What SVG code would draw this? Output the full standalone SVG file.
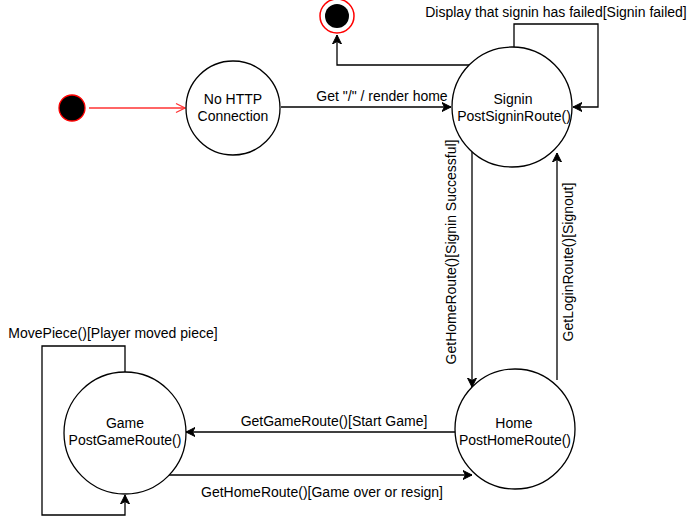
<svg xmlns="http://www.w3.org/2000/svg" width="699" height="527" viewBox="0 0 699 527">
<style>
.st{fill:#fff;stroke:#000;stroke-width:1.3}
.t{font-family:"Liberation Sans",Arial,sans-serif;font-size:14px;fill:#000}
.c{text-anchor:middle}
.e{fill:none;stroke:#000;stroke-width:1.3}
</style>
<defs>
<marker id="a" markerWidth="10" markerHeight="10" refX="9" refY="5" orient="auto" markerUnits="userSpaceOnUse">
<path d="M0,0.5 L9,5 L0,9.5 L2.5,5 z" fill="#000" stroke="#000" stroke-width="1"/>
</marker>
<marker id="o" markerWidth="12" markerHeight="12" refX="10" refY="6" orient="auto" markerUnits="userSpaceOnUse">
<path d="M1,1.5 L10,6 L1,10.5" fill="none" stroke="#ff3333" stroke-width="1.3"/>
</marker>
</defs>
<g id="connectors">
<line x1="89" y1="108" x2="185" y2="108" stroke="#ff3333" stroke-width="1.3" marker-end="url(#o)"/>
<line class="e" x1="281" y1="107" x2="451" y2="107" marker-end="url(#a)"/>
<polyline class="e" points="472,65 337,65 337,35" marker-end="url(#a)"/>
<polyline class="e" points="514,47 514,24 598,24 598,107 573,107" marker-end="url(#a)"/>
<line class="e" x1="472" y1="149" x2="472" y2="387" marker-end="url(#a)"/>
<line class="e" x1="557" y1="380" x2="557" y2="153" marker-end="url(#a)"/>
<line class="e" x1="455" y1="432" x2="186" y2="432" marker-end="url(#a)"/>
<line class="e" x1="168" y1="475" x2="472" y2="475" marker-end="url(#a)"/>
<polyline class="e" points="125,372 125,346 42,346 42,515 125,515 125,495" marker-end="url(#a)"/>
<text class="t c" x="382" y="101">Get "/" / render home</text>
<text class="t c" x="556" y="17">Display that signin has failed[Signin failed]</text>
<text class="t c" transform="translate(456,252) rotate(-90)">GetHomeRoute()[Signin Successful]</text>
<text class="t c" transform="translate(573,262) rotate(-90)">GetLoginRoute()[Signout]</text>
<text class="t c" x="334" y="426">GetGameRoute()[Start Game]</text>
<text class="t c" x="322" y="497">GetHomeRoute()[Game over or resign]</text>
<text class="t c" x="113" y="338">MovePiece()[Player moved piece]</text>
</g>
<g id="start">
<circle cx="72" cy="108" r="13" fill="#000" stroke="#ff0000" stroke-width="1.3"/>
</g>
<g id="end">
<circle cx="337" cy="16" r="17" fill="#fff" stroke="#ff0000" stroke-width="1.5"/>
<circle cx="337" cy="16" r="12" fill="#000"/>
</g>
<g id="nohttp">
<circle class="st" cx="233" cy="108" r="47"/>
<text class="t c" x="233" y="104">No HTTP</text>
<text class="t c" x="233" y="121">Connection</text>
</g>
<g id="signin">
<circle class="st" cx="512" cy="107" r="60"/>
<text class="t c" x="513" y="104">Signin</text>
<text class="t c" x="514" y="121">PostSigninRoute()</text>
</g>
<g id="home">
<circle class="st" cx="515" cy="429" r="60"/>
<text class="t c" x="514" y="428">Home</text>
<text class="t c" x="515" y="445">PostHomeRoute()</text>
</g>
<g id="game">
<circle class="st" cx="125" cy="433" r="61"/>
<text class="t c" x="125" y="428">Game</text>
<text class="t c" x="125" y="445">PostGameRoute()</text>
</g>
</svg>
